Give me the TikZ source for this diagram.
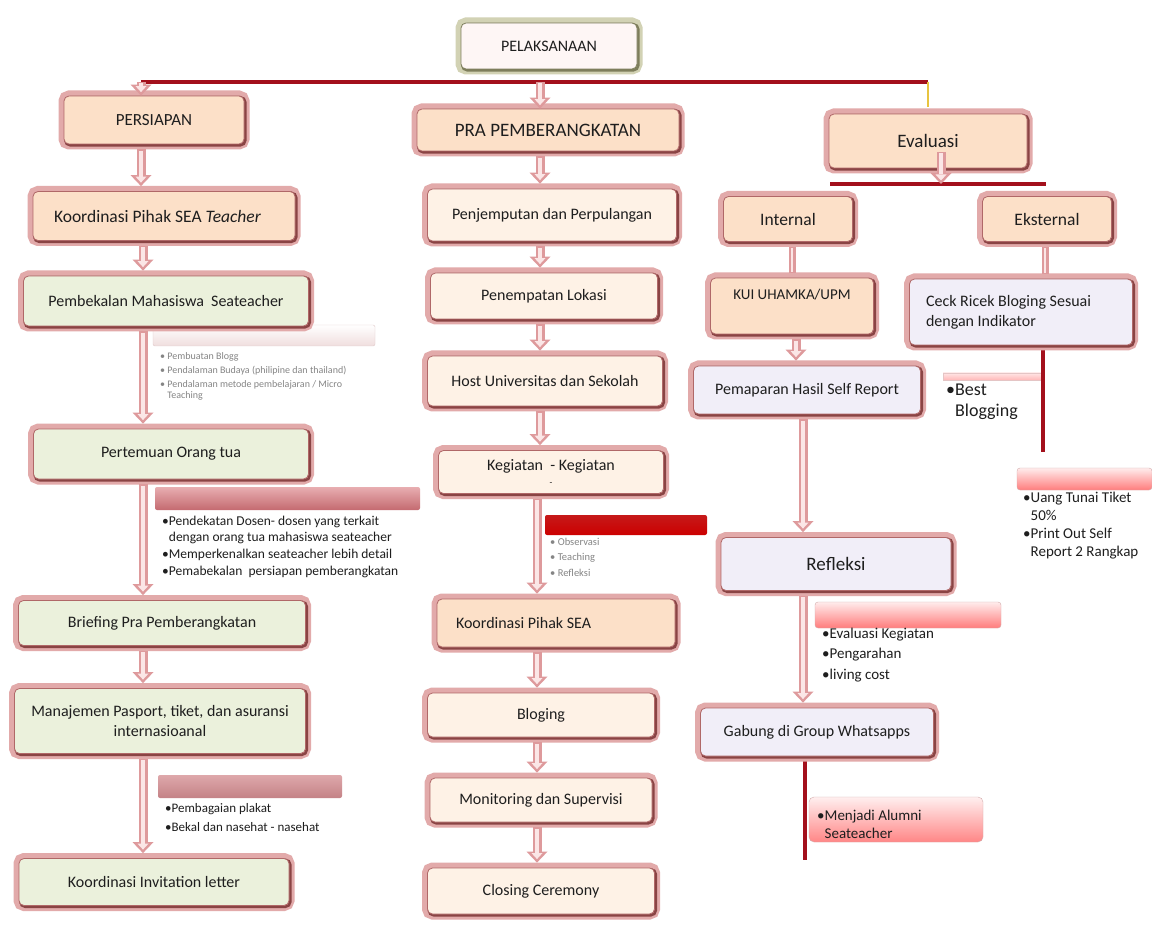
\documentclass[tikz,border=0pt]{standalone}
\usepackage{fontspec}
\setmainfont{Carlito}
\usetikzlibrary{arrows.meta,calc}
\definecolor{framepink}{HTML}{E2AAAA}
\definecolor{boxline}{HTML}{B06868}
\definecolor{boxdark}{HTML}{8A4444}
\definecolor{peach}{HTML}{FCE0C8}
\definecolor{cream}{HTML}{FEF2E6}
\definecolor{mint}{HTML}{EBF1DC}
\definecolor{lav}{HTML}{F1EEF8}
\definecolor{pelfill}{HTML}{FEF6F5}
\definecolor{olivef}{HTML}{D2D2B4}
\definecolor{olivel}{HTML}{7E7E5C}
\definecolor{busred}{HTML}{A3101C}
\definecolor{gold}{HTML}{E8C440}
\definecolor{arrpink}{HTML}{DE9A9C}
\definecolor{arrlight}{HTML}{FBE6E6}
\definecolor{txt}{HTML}{1E1E1E}
\definecolor{smallgray}{HTML}{858585}
\tikzset{
  bx/.style={rounded corners=5pt, fill=#1, draw=boxline, line width=0.8pt, inner sep=3pt,
    align=center, text=txt,
    preaction={draw=framepink, line width=11pt},
    preaction={draw=boxdark, line width=2.6pt, transform canvas={shift={(1.3pt,-1.3pt)}}}},
  pelbx/.style={rounded corners=5pt, fill=pelfill, draw=olivel, line width=0.8pt, inner sep=3pt,
    align=center, text=txt,
    preaction={draw=olivef, line width=11pt},
    preaction={draw=olivel, line width=2.6pt, transform canvas={shift={(1.3pt,-1.3pt)}}}},
  barr/.style={draw=arrpink, line width=9pt, shorten <=5pt, shorten >=5pt,
    -{Triangle[length=11pt,width=21pt,line width=0pt]},
    postaction={draw=arrlight, line width=4pt, shorten <=6.5pt, shorten >=8.5pt,
      -{Triangle[length=6pt,width=11pt,line width=0pt]}}},
  barrc/.style={draw=arrpink, line width=9pt,
    -{Triangle[length=11pt,width=21pt,line width=0pt]},
    postaction={draw=arrlight, line width=4pt, shorten <=1.5pt, shorten >=3.5pt,
      -{Triangle[length=6pt,width=11pt,line width=0pt]}}},
  sarr/.style={draw=arrpink, line width=7pt, shorten <=5pt, shorten >=5pt,
    postaction={draw=arrlight, line width=2.5pt, shorten <=6pt, shorten >=6pt}},
  busline/.style={draw=busred, line width=4pt},
  blist/.style={anchor=north west, inner sep=0pt, align=left, text=txt},
  f16/.style={font=\fontsize{16}{20}\selectfont},
}
\begin{document}
\begin{tikzpicture}[x=1pt,y=-1pt]
\useasboundingbox (0,0) rectangle (1152,933);
\fill[white] (0,0) rectangle (1152,933);

% column x positions and free line ends
\coordinate (xL) at (143,0);
\coordinate (xL2) at (141,0);
\coordinate (xM) at (540,0);
\coordinate (xM2) at (537,0);
\coordinate (xI) at (792,0);
\coordinate (xP) at (796,0);
\coordinate (xR) at (803,0);
\coordinate (xE) at (1045,0);
\coordinate (xE2) at (1043,0);
\coordinate (busL) at (141,82);
\coordinate (busM) at (540,82);
\coordinate (busR) at (928,82);
\coordinate (yel) at (928,107);
\coordinate (evL) at (830,184);
\coordinate (evR) at (1046,184);
\coordinate (evtop) at (941,152);
\coordinate (evbot) at (941,184);
\coordinate (ekend) at (1043,452);
\coordinate (gabend) at (805,860);

% label strips
\shade[top color=white, bottom color=pink!70!gray!40, draw=pink!60!gray!60, rounded corners=2pt] (153,325) rectangle (375,346);
\shade[top color={rgb,255:red,232;green,174;blue,177}, bottom color={rgb,255:red,196;green,106;blue,112}, rounded corners=2pt] (155,487) rectangle (420,510);
\shade[top color={rgb,255:red,222;green,168;blue,171}, bottom color={rgb,255:red,196;green,130;blue,134}, rounded corners=2pt] (158,775) rectangle (342,798);
\shade[top color=red!75!black!90, bottom color=red!80!black, rounded corners=2pt] (545,515) rectangle (707,535);
\shade[top color=pink!40, bottom color=pink!80!red!70, draw=pink!70!gray!70] (943,373) rectangle (1043,380);
\shade[top color=pink!30, bottom color=red!35!pink, draw=red!30!gray!50, rounded corners=3pt] (1017,468) rectangle (1152,490);
\shade[top color=pink!30, bottom color=red!35!pink, draw=red!30!gray!50, rounded corners=3pt] (815,602) rectangle (1001,628);
\shade[top color=pink!25, bottom color=red!30!pink, draw=red!30!gray!50, rounded corners=5pt] (809,797) rectangle (983,842);

% nodes
\node[pelbx, minimum width=176pt, minimum height=46pt, font=\fontsize{16}{20}\selectfont] (pel) at (549,46) {PELAKSANAAN};
\node[bx=peach, minimum width=180pt, minimum height=48pt, font=\fontsize{17}{20}\selectfont] (pers) at (154,120) {PERSIAPAN};
\node[bx=peach, minimum width=262pt, minimum height=42pt, font=\fontsize{19}{22}\selectfont] (pra) at (548,130) {PRA PEMBERANGKATAN};
\node[bx=peach, minimum width=198pt, minimum height=54pt, font=\fontsize{19}{22}\selectfont] (eval) at (928,141) {Evaluasi};

% lines (behind boxes)
\draw[busline] (busL) -- (busR);
\draw[draw=gold, line width=2.5pt] (busR) -- (yel);
\draw[busline] (evL) -- (evR);
\draw[busline] (xE2 |- 0,345) coordinate (ckb) -- (ekend);
\draw[busline] (805,750) coordinate (gbb) -- (gabend);

\node[bx=peach, minimum width=129pt, minimum height=45pt, font=\fontsize{17.5}{20}\selectfont] (int) at (788,219) {Internal};
\node[bx=peach, minimum width=129pt, minimum height=45pt, font=\fontsize{17.5}{20}\selectfont] (eks) at (1047,219) {Eksternal};
\node[bx=peach, minimum width=163pt, minimum height=56pt, font=\fontsize{15}{18}\selectfont, text depth=23pt] (kui) at (792,306) {KUI UHAMKA/UPM};
\node[bx=lav, minimum width=223pt, minimum height=66pt, f16, text width=190pt, align=flush left] (ceck) at (1021,312) {Ceck Ricek Bloging Sesuai\\dengan Indikator};
\node[bx=lav, minimum width=227pt, minimum height=48pt, f16] (pem) at (807,390) {Pemaparan Hasil Self Report};
\node[bx=lav, minimum width=230pt, minimum height=53pt, font=\fontsize{19}{22}\selectfont] (refl) at (836,564) {Refleksi};
\node[bx=lav, minimum width=233pt, minimum height=48pt, f16] (gab) at (817,732) {Gabung di Group Whatsapps};

\node[bx=peach, minimum width=262pt, minimum height=49pt, font=\fontsize{17.5}{20}\selectfont, text width=220pt, align=flush left] (koor) at (164,216) {Koordinasi Pihak SEA \textit{Teacher}};
\node[bx=mint, minimum width=285pt, minimum height=50pt, f16] (pemb) at (166,301) {Pembekalan Mahasiswa\ \ Seateacher};
\node[bx=mint, minimum width=275pt, minimum height=50pt, f16] (pert) at (171,454) {Pertemuan Orang tua};
\node[bx=mint, minimum width=287pt, minimum height=45pt, f16] (brief) at (162,623) {Briefing Pra Pemberangkatan};
\node[bx=mint, minimum width=291pt, minimum height=65pt, f16] (man) at (160,721) {Manajemen Pasport, tiket, dan asuransi\\internasioanal};
\node[bx=mint, minimum width=270pt, minimum height=47pt, f16] (inv) at (154,882) {Koordinasi Invitation letter};

\node[bx=cream, minimum width=249pt, minimum height=52pt, f16] (pen) at (552,215) {Penjemputan dan Perpulangan};
\node[bx=cream, minimum width=227pt, minimum height=46pt, f16] (lok) at (544,296) {Penempatan Lokasi};
\node[bx=cream, minimum width=235pt, minimum height=50pt, f16] (host) at (545,381) {Host Universitas dan Sekolah};
\node[bx=cream, minimum width=225pt, minimum height=43pt, f16] (keg) at (551,472) {Kegiatan\ \ - Kegiatan\\[-5pt]{\fontsize{9}{9}\selectfont -}};
\node[bx=peach, minimum width=238pt, minimum height=48pt, f16, text width=200pt, align=flush left] (ksea) at (556,623) {Koordinasi Pihak SEA};
\node[bx=cream, minimum width=227pt, minimum height=44pt, f16] (blog) at (541,715) {Bloging};
\node[bx=cream, minimum width=222pt, minimum height=44pt, f16] (mon) at (541,800) {Monitoring dan Supervisi};
\node[bx=cream, minimum width=227pt, minimum height=46pt, f16] (clos) at (541,891) {Closing Ceremony};

% block arrows
\draw[barrc] (busL) -- (pers.north -| busL);
\draw[barrc] (busM) -- (pra.north -| busM);
\draw[barrc] (evtop) -- (evbot);
\draw[barr] (pers.south -| xL2) -- (koor.north -| xL2);
\draw[barr] (koor.south -| xL) -- (pemb.north -| xL);
\draw[barr] (pemb.south -| xL) -- (pert.north -| xL);
\draw[barr] (pert.south -| xL) -- (brief.north -| xL);
\draw[barr] (brief.south -| xL) -- (man.north -| xL);
\draw[barr] (man.south -| xL) -- (inv.north -| xL);
\draw[barr] (pra.south -| xM) -- (pen.north -| xM);
\draw[barr] (pen.south -| xM) -- (lok.north -| xM);
\draw[barr] (lok.south -| xM) -- (host.north -| xM);
\draw[barr] (host.south -| xM) -- (keg.north -| xM);
\draw[barr] (keg.south -| xM2) -- (ksea.north -| xM2);
\draw[barr] (ksea.south -| xM2) -- (blog.north -| xM2);
\draw[barr] (blog.south -| xM2) -- (mon.north -| xM2);
\draw[barr] (mon.south -| xM2) -- (clos.north -| xM2);
\draw[sarr] (int.south -| xI) -- (kui.north -| xI);
\draw[sarr] (eks.south -| xE) -- (ceck.north -| xE);
\draw[barr] (kui.south -| xP) -- (pem.north -| xP);
\draw[barr] (pem.south -| xR) -- (refl.north -| xR);
\draw[barr] (refl.south -| xR) -- (gab.north -| xR);

% bullet texts
\node[blist, text=smallgray, font=\fontsize{10}{14}\selectfont] (tpemb) at (160,352)
  {• Pembuatan Blogg\\• Pendalaman Budaya (philipine dan thailand)\\• Pendalaman metode pembelajaran / Micro\\[-3pt]\phantom{• }Teaching};
\node[blist, font=\fontsize{13.5}{16.7}\selectfont] (tpert) at (162,515.5)
  {•Pendekatan Dosen- dosen yang terkait\\\phantom{•}dengan orang tua mahasiswa seateacher\\•Memperkenalkan seateacher lebih detail\\•Pemabekalan\ \ persiapan pemberangkatan};
\node[blist, font=\fontsize{13}{19}\selectfont] (tman) at (165,803.5)
  {•Pembagaian plakat\\•Bekal dan nasehat - nasehat};
\node[blist, text=smallgray, font=\fontsize{10.5}{15.5}\selectfont] (tkeg) at (550,538)
  {• Observasi\\• Teaching\\• Refleksi};
\node[blist, font=\fontsize{15}{20.5}\selectfont] (trefl) at (822,627.5)
  {•Evaluasi Kegiatan\\•Pengarahan\\•living cost};
\node[blist, font=\fontsize{15}{18}\selectfont] (teks) at (1023,491.5)
  {•Uang Tunai Tiket\\\phantom{•}50\%\\•Print Out Self\\\phantom{•}Report 2 Rangkap};
\node[blist, font=\fontsize{18}{20.5}\selectfont] (tbest) at (946,384)
  {•Best\\\phantom{•}Blogging};
\node[blist, font=\fontsize{15}{18}\selectfont] (talum) at (817,809.5)
  {•Menjadi Alumni\\\phantom{•}Seateacher};
\end{tikzpicture}
\end{document}
